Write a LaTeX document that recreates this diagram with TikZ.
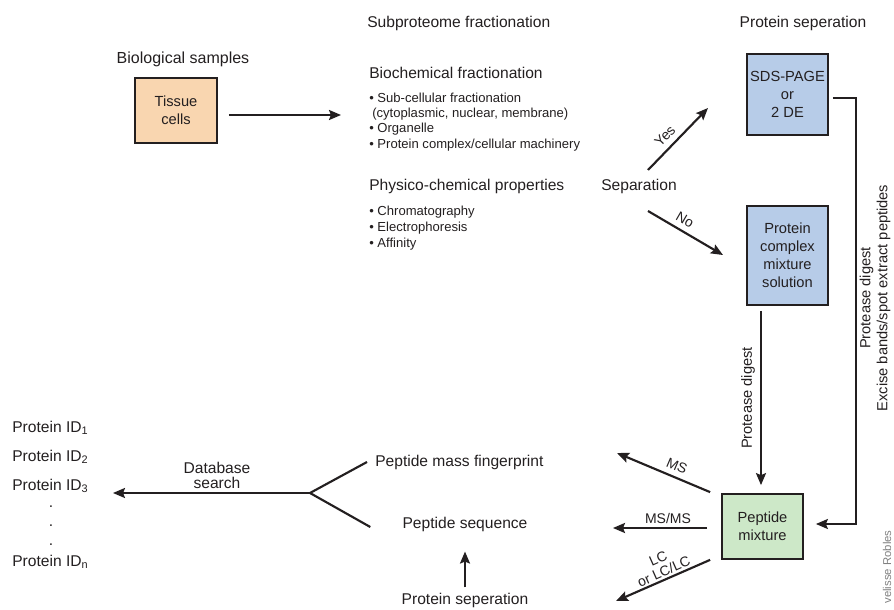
\documentclass[tikz,border=0pt]{standalone}
\usepackage{fontspec}
\setmainfont{Liberation Sans}
\usetikzlibrary{arrows.meta,calc}
\definecolor{peach}{HTML}{F9D6B0}
\definecolor{lblue}{HTML}{B7CCE8}
\definecolor{lgreen}{HTML}{CDE8C8}
\definecolor{ink}{HTML}{231F20}
\begin{document}
\begin{tikzpicture}[x=0.75pt,y=-0.75pt,
  lbl/.style={font=\fontsize{11.7}{13.5}\selectfont, inner sep=0pt, text=ink},
  sml/.style={font=\fontsize{10.5}{11}\selectfont, inner sep=0pt, text=ink},
  bul/.style={font=\fontsize{9.8}{11.6}\selectfont, inner sep=0pt, anchor=west, text=ink},
  box/.style={draw=ink, line width=1.3pt, inner sep=0pt, align=center, text=ink,
              font=\fontsize{11}{13.5}\selectfont},
  arr/.style={draw=ink, line width=1.6pt, -{Stealth[length=9pt,width=7.5pt,inset=1.5pt]}},
  ln/.style={draw=ink, line width=1.6pt}]
\useasboundingbox (0,0) rectangle (894,610);

% --- biological samples
\node[lbl, font=\fontsize{12}{13.5}\selectfont] (biolab) at (183,59) {Biological samples};
\node[box, fill=peach, minimum width=61.5pt, minimum height=48.75pt] (tissue) at (176,110.5) {Tissue\\cells};
\coordinate (fracin) at (341,115);
\draw[arr] ($(tissue.east|-fracin)+(11,0)$) -- (fracin);

% --- subproteome fractionation
\node[lbl, anchor=west] (subp) at (367,23) {Subproteome fractionation};
\node[lbl, anchor=west] (bioch) at (369,73) {Biochemical fractionation};
\node[bul] (b1) at (369,98) {• Sub-cellular fractionation};
\node[bul] (b1b) at (372,114) {(cytoplasmic, nuclear, membrane)};
\node[bul] (b2) at (369,129) {• Organelle};
\node[bul] (b3) at (369,145) {• Protein complex/cellular machinery};
\node[lbl, anchor=west] (phys) at (369,186) {Physico-chemical properties};
\node[bul] (b4) at (369,212) {• Chromatography};
\node[bul] (b5) at (369,228) {• Electrophoresis};
\node[bul] (b6) at (369,244) {• Affinity};

% --- separation decision
\node[lbl] (sep) at (639,186) {Separation};
\node[lbl] (psephead) at (803,23) {Protein seperation};
\node[box, fill=lblue, minimum width=60.75pt, minimum height=60.75pt] (sds) at (787.5,94.5) {SDS-PAGE\\or\\2 DE};
\node[box, fill=lblue, minimum width=60.75pt, minimum height=74.25pt] (pcm) at (787.5,255.5) {Protein\\complex\\mixture\\solution};
\node[box, fill=lgreen, minimum width=60.75pt, minimum height=48.75pt] (pep) at (762.5,526.5) {Peptide\\mixture};

\coordinate (yesS) at (648,170);
\coordinate (yesE) at (708,108);
\draw[arr] (yesS) -- (yesE);
\node[sml, rotate=46] (yeslbl) at (665,136) {Yes};
\coordinate (noS) at (648,211);
\coordinate (noE) at (723,255);
\draw[arr] (noS) -- (noE);
\node[sml, rotate=-30] (nolbl) at (685,220) {No};

% --- excise bands connector
\draw[arr] ($(sds.east)+(4,3.5)$) -- ++(23,0) |- ($(pep.east)+(12,-2.5)$);
\node[sml, rotate=90, align=center, font=\fontsize{11}{12.8}\selectfont] (exl) at (875,298)
  {Protease digest\\Excise bands/spot extract peptides};

% --- protease digest
\draw[arr] ($(pcm.south)+(-26.5,5)$) -- ($(pep.north)+(-1.5,-8)$);
\node[sml, rotate=90, font=\fontsize{11}{13}\selectfont] (pdl) at (748,398) {Protease digest};

% --- outputs of peptide mixture
\coordinate (msE) at (617,453);
\draw[arr] ($(pep.north west)+(-11,-1)$) -- (msE);
\node[sml, rotate=-23] (mslbl) at (677,466) {MS};
\coordinate (msmsE) at (613,528);
\draw[arr] ($(pep.west)+(-14,1.5)$) -- (msmsE);
\node[sml] (msmslbl) at (668,518) {MS/MS};
\coordinate (lcE) at (616,601);
\draw[arr] ($(pep.south west)+(-11,0)$) -- (lcE);
\node[sml, rotate=24, align=center, font=\fontsize{10.5}{10.5}\selectfont] (lclbl) at (661,565) {LC\\or LC/LC};

% --- peptide analysis
\node[lbl, anchor=west] (pmf) at (375,462) {Peptide mass fingerprint};
\node[lbl] (pseq) at (465,524) {Peptide sequence};
\node[lbl] (psep) at (465,600) {Protein seperation};
\draw[arr] ($(psep.north)+(0,-5)$) -- ($(pseq.south)+(0,20)$);

\coordinate (fork) at (310,493);
\coordinate (dbE) at (113,493);
\draw[ln] ($(pmf.west)+(-8,0)$) -- (fork) -- ($(pseq.west)+(-32,3)$);
\draw[arr] (fork) -- (dbE);
\node[lbl, align=center, font=\fontsize{11.7}{11.2}\selectfont] (dbl) at (217,475) {Database\\search};

% --- protein IDs
\node[lbl, anchor=west] (id1) at (12,428) {Protein ID\textsubscript{1}};
\node[lbl, anchor=west] (id2) at (12,457) {Protein ID\textsubscript{2}};
\node[lbl, anchor=west] (id3) at (12,486) {Protein ID\textsubscript{3}};
\node[lbl] (d1) at (51,507) {.};
\node[lbl] (d2) at (51,526) {.};
\node[lbl] (d3) at (51,545) {.};
\node[lbl, anchor=west] (idn) at (12,562) {Protein ID\textsubscript{n}};

% --- credit
\node[rotate=90, text=gray, inner sep=0pt, font=\fontsize{8.5}{10}\selectfont] (credit) at (887,567) {velisse Robles};
\end{tikzpicture}
\end{document}
